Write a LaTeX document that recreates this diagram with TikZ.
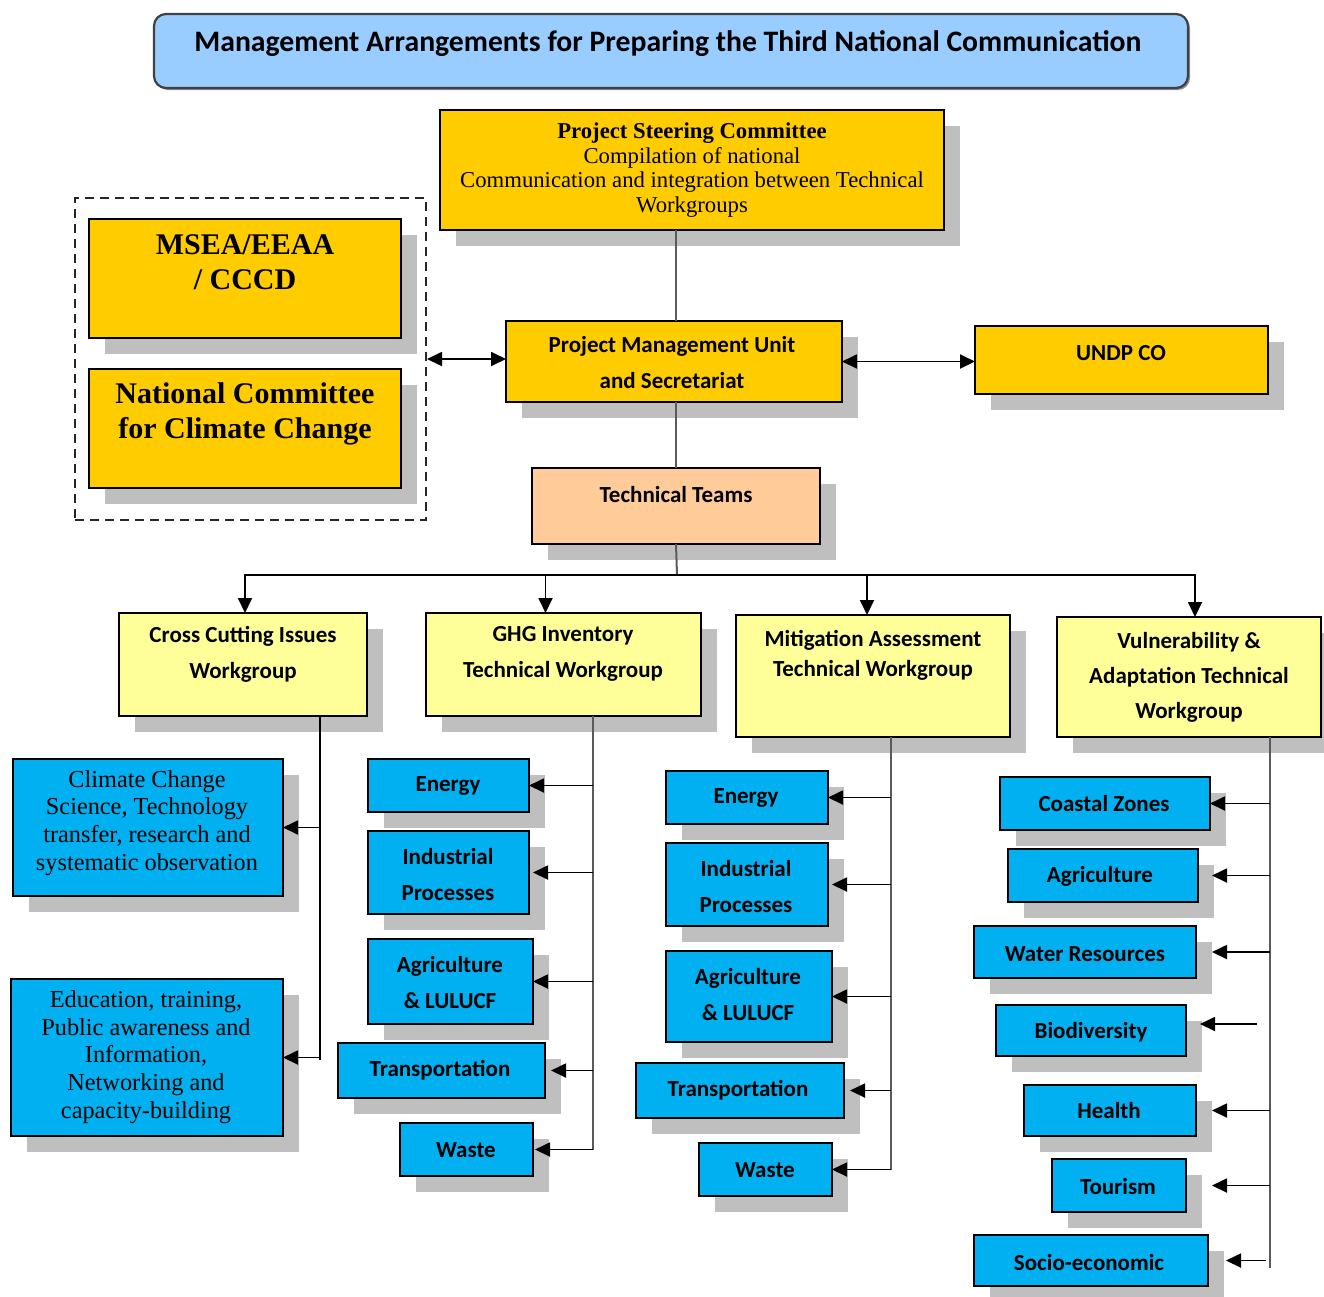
\documentclass[tikz,border=0pt]{standalone}
\usepackage{fontspec}
\setmainfont{Liberation Serif}
\newfontfamily\sansb{Carlito}
\usetikzlibrary{arrows.meta,shadows}
\definecolor{gold}{HTML}{FFCC00}
\definecolor{lyel}{HTML}{FFFF99}
\definecolor{peach}{HTML}{FFCC99}
\definecolor{skyb}{HTML}{00B0F0}
\definecolor{ltblue}{HTML}{99CCFF}
\definecolor{shadowgray}{HTML}{BFBFBF}
\definecolor{trunkgray}{HTML}{5A5A5A}
\newcommand\mybox[6]{\node[#1, minimum width={(#5-#3)*1pt}, minimum height={(#6-#4)*1pt}] (#2) at ({(#3+#5)/2},{(#4+#6)/2}) {};}
\tikzset{
  bx/.style={draw=black, line width=2pt, inner sep=0pt, outer sep=0pt,
    drop shadow={shadow xshift=16pt, shadow yshift=-16pt, fill=shadowgray, opacity=1}},
  goldbox/.style={bx, fill=gold},
  lyelbox/.style={bx, fill=lyel},
  peachbox/.style={bx, fill=peach},
  bluebox/.style={bx, fill=skyb},
  titlebox/.style={draw=black!75, line width=2.2pt, fill=ltblue, rounded corners=12pt, inner sep=0pt,
    drop shadow={shadow xshift=2pt, shadow yshift=-2pt, fill=black!45, opacity=1}},
  dashbox/.style={draw=black!85, line width=2pt, dash pattern=on 9pt off 6pt, inner sep=0pt},
  tsans/.style={font=\sansb\bfseries\fontsize{23}{36}\selectfont, align=center, inner sep=0pt},
  tsansm/.style={font=\sansb\bfseries\fontsize{23}{30}\selectfont, align=center, inner sep=0pt},
  tsansv/.style={font=\sansb\bfseries\fontsize{23}{35}\selectfont, align=center, inner sep=0pt},
  tserif/.style={font=\fontsize{22.7}{24.5}\selectfont, align=center, inner sep=0pt},
  tserifb/.style={font=\bfseries\fontsize{30}{35}\selectfont, align=center, inner sep=0pt},
  tserifs/.style={font=\fontsize{24.3}{27.8}\selectfont, align=center, inner sep=0pt},
  arr/.style={draw=black, line width=1.8pt, -{Triangle[length=15pt,width=14pt]}},
  darr/.style={draw=black, line width=1.8pt, {Triangle[length=15pt,width=14pt]}-{Triangle[length=15pt,width=14pt]}},
  trunk/.style={draw=trunkgray, line width=2pt},
}
\begin{document}
\begin{tikzpicture}[x=1pt,y=-1pt]
\useasboundingbox (0,0) rectangle (1324,1296);
% title
\mybox{titlebox}{title}{154}{14}{1188}{88}
\node[font=\sansb\bfseries\fontsize{29.7}{30}\selectfont, inner sep=0pt] (title-t) at (668,44) {Management Arrangements for Preparing the Third National Communication};
% top level
\mybox{goldbox}{psc}{440}{110}{944}{230}
\node[tserif] (psc-t) at (692,170) {\textbf{Project Steering Committee}\\Compilation of national\\Communication and integration between Technical\\Workgroups};
\mybox{dashbox}{grp}{75}{198}{426}{520}
\mybox{goldbox}{msea}{89}{219}{401}{338}
\node[tserifb] (msea-t) at (245,262) {MSEA/EEAA\\/ CCCD};
\mybox{goldbox}{nccc}{89}{369}{401}{488}
\node[tserifb] (nccc-t) at (245,414) {National Committee\\for Climate Change};
\mybox{goldbox}{pmu}{506}{321}{842}{402}
\node[tsans] (pmu-t) at (672,363) {Project Management Unit\\and Secretariat};
\mybox{goldbox}{undp}{975}{326}{1268}{394}
\node[tsans] (undp-t) at (1121,353) {UNDP CO};
\mybox{peachbox}{tt}{532}{468}{820}{544}
\node[tsans] (tt-t) at (676,495) {Technical Teams};
% workgroups
\mybox{lyelbox}{cci}{119}{613}{367}{716}
\node[tsans] (cci-t) at (243,654) {Cross Cutting Issues\\Workgroup};
\mybox{lyelbox}{ghg}{426}{613}{701}{716}
\node[tsans] (ghg-t) at (563,654) {GHG Inventory\\Technical Workgroup};
\mybox{lyelbox}{ma}{736}{615}{1010}{737}
\node[tsansm] (ma-t) at (873,655) {Mitigation Assessment\\Technical Workgroup};
\mybox{lyelbox}{va}{1057}{617}{1321}{737}
\node[tsansv] (va-t) at (1189,677) {Vulnerability \&\\Adaptation Technical\\Workgroup};
% cross cutting
\mybox{bluebox}{cc}{13}{759}{283}{896}
\node[tserifs] (cc-t) at (147,823) {Climate Change\\Science, Technology\\transfer, research and\\systematic observation};
\mybox{bluebox}{edu}{11}{979}{283}{1136}
\node[tserifs] (edu-t) at (146,1057) {Education, training,\\Public awareness and\\Information,\\Networking and\\capacity-building};
% GHG
\mybox{bluebox}{ge}{368}{759}{529}{812}
\node[tsans] (ge-t) at (448,786) {Energy};
\mybox{bluebox}{gi}{368}{831}{529}{914}
\node[tsans] (gi-t) at (448,874) {Industrial\\Processes};
\mybox{bluebox}{ga}{368}{939}{533}{1024}
\node[tsans] (ga-t) at (450,982) {Agriculture\\\& LULUCF};
\mybox{bluebox}{gt}{338}{1043}{545}{1098}
\node[tsans] (gt-t) at (440,1070) {Transportation};
\mybox{bluebox}{gw}{400}{1123}{533}{1176}
\node[tsans] (gw-t) at (466,1150) {Waste};
% MA
\mybox{bluebox}{me}{666}{771}{828}{824}
\node[tsans] (me-t) at (746,798) {Energy};
\mybox{bluebox}{mi}{666}{843}{828}{926}
\node[tsans] (mi-t) at (746,886) {Industrial\\Processes};
\mybox{bluebox}{mag}{666}{951}{832}{1042}
\node[tsans] (mag-t) at (748,994) {Agriculture\\\& LULUCF};
\mybox{bluebox}{mt}{636}{1063}{844}{1118}
\node[tsans] (mt-t) at (738,1090) {Transportation};
\mybox{bluebox}{mw}{699}{1143}{832}{1196}
\node[tsans] (mw-t) at (765,1170) {Waste};
% VA
\mybox{bluebox}{vc}{1000}{777}{1210}{830}
\node[tsans] (vc-t) at (1104,804) {Coastal Zones};
\mybox{bluebox}{vag}{1008}{849}{1198}{902}
\node[tsans] (vag-t) at (1100,876) {Agriculture};
\mybox{bluebox}{vw}{974}{926}{1196}{978}
\node[tsans] (vw-t) at (1085,954) {Water Resources};
\mybox{bluebox}{vb}{996}{1005}{1186}{1056}
\node[tsans] (vb-t) at (1091,1032) {Biodiversity};
\mybox{bluebox}{vh}{1024}{1085}{1196}{1136}
\node[tsans] (vh-t) at (1109,1110) {Health};
\mybox{bluebox}{vt}{1052}{1159}{1186}{1212}
\node[tsans] (vt-t) at (1118,1186) {Tourism};
\mybox{bluebox}{vs}{974}{1235}{1208}{1286}
\node[tsans] (vs-t) at (1089,1262) {Socio-economic};
% connectors top
\draw[trunk] (tt.north |- psc.south) -- (tt.north |- pmu.north);
\draw[trunk] (tt.north |- pmu.south) -- (tt.north);
\draw[darr] (grp.east) -- (grp.east -| pmu.west);
\draw[darr] (pmu.east) -- (pmu.east -| undp.west);
\coordinate (hub) at (677,575);
\draw[trunk] (tt.south) -- (hub);
\draw[arr] (hub) -| ([xshift=2pt]cci.north);
\draw[arr] (hub) -| ([xshift=-18pt]ghg.north);
\draw[arr] (hub) -| ([xshift=-6pt]ma.north);
\draw[arr] (hub) -| ([xshift=6pt]va.north);
% cross cutting trunk
\coordinate (cciT) at (320,716);
\coordinate (cciB) at (320,1060);
\draw[draw=black, line width=2pt] (cciT) -- (cciB);
\draw[arr] (cciT |- cc.east) -- (cc.east);
\draw[arr] (cciT |- edu.east) -- (edu.east);
% GHG trunk
\coordinate (ghgT) at (593,716);
\draw[trunk] (ghgT) -- (ghgT |- gw.east);
\draw[arr] (ghgT |- ge.east) -- (ge.east);
\draw[arr] (ghgT |- gi.east) -- ([xshift=4pt]gi.east);
\draw[arr] (ghgT |- ga.east) -- (ga.east);
\draw[arr] (ghgT |- gt.east) -- ([xshift=6pt]gt.east);
\draw[arr] (ghgT |- gw.east) -- ([xshift=2pt]gw.east);
% MA trunk
\coordinate (maT) at (891,737);
\draw[trunk] (maT) -- (maT |- mw.east);
\draw[arr] (maT |- me.east) -- (me.east);
\draw[arr] (maT |- mi.east) -- ([xshift=4pt]mi.east);
\draw[arr] (maT |- mag.east) -- (mag.east);
\draw[arr] (maT |- mt.east) -- ([xshift=6pt]mt.east);
\draw[arr] (maT |- mw.east) -- (mw.east);
% VA trunk
\coordinate (vaT) at (1270,737);
\coordinate (vaB) at (1270,1268);
\draw[trunk] (vaT) -- (vaB);
\draw[arr] (vaT |- vc.east) -- (vc.east);
\draw[arr] (vaT |- vag.east) -- ([xshift=14pt]vag.east);
\draw[arr] (vaT |- vw.east) -- ([xshift=16pt]vw.east);
\coordinate (vbS) at (1257,1024);
\draw[arr] (vbS) -- ([xshift=14pt]vb.east |- vbS);
\draw[arr] (vaT |- vh.east) -- ([xshift=16pt]vh.east);
\draw[arr] (vaT |- vt.east) -- ([xshift=26pt]vt.east);
\draw[arr] ([xshift=-4pt]vaB |- vs.east) -- ([xshift=18pt]vs.east);
\end{tikzpicture}
\end{document}
